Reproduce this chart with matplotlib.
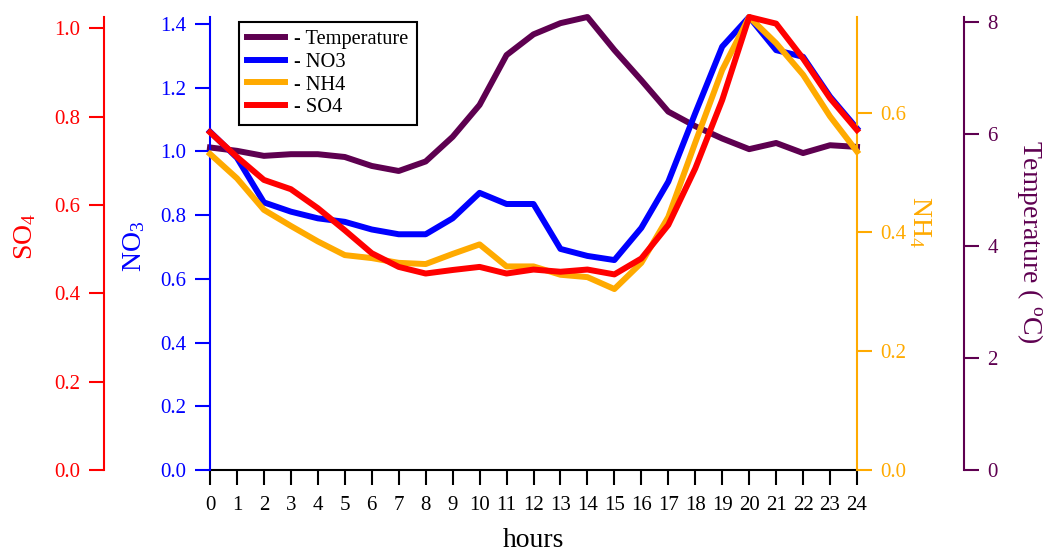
import matplotlib
matplotlib.use("Agg")
import matplotlib.pyplot as plt

plt.rcParams['font.family'] = ['Liberation Serif', 'DejaVu Serif']
plt.rcParams['mathtext.fontset'] = 'custom'
plt.rcParams['mathtext.rm'] = 'Liberation Serif'
plt.rcParams['mathtext.it'] = 'Liberation Serif:italic'
plt.rcParams['mathtext.bf'] = 'Liberation Serif:bold'

# ---- data ----
hours = list(range(25))
hour_labels = [str(h) for h in hours]
temperature = [5.76, 5.70, 5.61, 5.64, 5.64, 5.59, 5.43, 5.34, 5.51, 5.95, 6.52, 7.41, 7.78,
               7.98, 8.09, 7.50, 6.96, 6.40, 6.14, 5.92, 5.73, 5.84, 5.66, 5.80, 5.77]
no3 = [1.062, 0.98, 0.840, 0.811, 0.790, 0.779, 0.755, 0.740, 0.740, 0.790, 0.870, 0.835, 0.835,
       0.694, 0.672, 0.659, 0.760, 0.905, 1.12, 1.329, 1.422, 1.318, 1.297, 1.172, 1.072]
nh4 = [0.531, 0.49, 0.437, 0.410, 0.384, 0.361, 0.356, 0.348, 0.346, 0.363, 0.379, 0.342, 0.342,
       0.328, 0.324, 0.304, 0.348, 0.425, 0.55, 0.672, 0.761, 0.717, 0.664, 0.594, 0.535]
so4 = [0.765, 0.709, 0.657, 0.636, 0.593, 0.543, 0.491, 0.460, 0.445, 0.453, 0.460, 0.445, 0.454,
       0.449, 0.454, 0.443, 0.479, 0.555, 0.683, 0.838, 1.026, 1.011, 0.932, 0.842, 0.770]
so4_ticks = [0.0, 0.2, 0.4, 0.6, 0.8, 1.0]
no3_ticks = [0.0, 0.2, 0.4, 0.6, 0.8, 1.0, 1.2, 1.4]
nh4_ticks = [0.0, 0.2, 0.4, 0.6]
temp_ticks = [0, 2, 4, 6, 8]

C_T = '#5E0050'
C_N = '#0000FF'
C_A = '#FFAA00'
C_S = '#FF0000'
LW = 4.3
TICKFS = 15
LABFS = 20
SPW = 1.5
TL = 10.8

fig = plt.figure(figsize=(10.46, 5.51), dpi=100)
W, H = 1046, 551
ax = fig.add_axes([210 / W, 1 - 470 / H, 647 / W, 453 / H])
axN = ax.twinx()
axA = ax.twinx()
axS = ax.twinx()

lT, = ax.plot(hours, temperature, color=C_T, lw=LW, clip_on=False, label='- Temperature')
lN, = axN.plot(hours, no3, color=C_N, lw=LW, clip_on=False, label='- NO3')
lA, = axA.plot(hours, nh4, color=C_A, lw=LW, clip_on=False, label='- NH4')
lS, = axS.plot(hours, so4, color=C_S, lw=LW, clip_on=False, label='- SO4')

ax.set_xlim(0, 24)
ax.set_xticks(hours)
ax.set_xticklabels(hour_labels)
ax.set_ylim(0, max(temperature))
axN.set_ylim(0, max(no3))
axA.set_ylim(0, max(nh4))
axS.set_ylim(0, max(so4))

for a in (ax, axN, axA, axS):
    for s in a.spines.values():
        s.set_visible(False)

# x axis
ax.spines['bottom'].set_visible(True)
ax.spines['bottom'].set_linewidth(SPW)
ax.spines['bottom'].set_color('black')
ax.tick_params(axis='x', direction='out', length=TL, width=SPW, labelsize=TICKFS, pad=8,
               colors='black')
ax.set_xlabel('hours', fontsize=LABFS)
ax.xaxis.set_label_coords(0.5, -0.127)


def setup_y(a, side, offset_px, color, ticks, fmt, label, rot, lx, ly):
    sp = a.spines[side]
    sp.set_visible(True)
    sp.set_color(color)
    sp.set_linewidth(SPW)
    sp.set_position(('outward', offset_px * 0.72))
    if side == 'left':
        a.yaxis.tick_left()
    else:
        a.yaxis.tick_right()
    a.yaxis.set_label_position(side)
    a.set_yticks(ticks)
    a.set_yticklabels([fmt.format(t) for t in ticks])
    a.tick_params(axis='y', direction='out', length=TL, width=SPW, labelsize=TICKFS,
                  pad=6, colors=color)
    a.set_ylabel(label, fontsize=LABFS, color=color, rotation=rot)
    a.yaxis.label.set_verticalalignment('center')
    a.yaxis.label.set_horizontalalignment('center')
    a.yaxis.set_label_coords(lx, ly)


setup_y(axS, 'left', 106, C_S, so4_ticks, '{:.1f}', 'SO$_4$', 90, -0.285, 0.515)
setup_y(axN, 'left', 0, C_N, no3_ticks, '{:.1f}', 'NO$_3$', 90, -0.118, 0.494)
setup_y(axA, 'right', 0, C_A, nh4_ticks, '{:.1f}', 'NH$_4$', 270, 1.097, 0.547)
setup_y(ax, 'right', 107, C_T, temp_ticks, '{:d}', 'Temperature ( $^{\\mathrm{o}}$C)', 270,
        1.268, 0.504)

leg = axS.legend(handles=[lT, lN, lA, lS], loc='upper left', bbox_to_anchor=(0.0448, 0.989),
                 bbox_transform=ax.transAxes, borderaxespad=0, fontsize=14.7,
                 frameon=True, fancybox=False, framealpha=1, edgecolor='black',
                 handlelength=1.85, handletextpad=0.45, labelspacing=0.16, borderpad=0.4)
leg.get_frame().set_linewidth(1.5)

fig.savefig('out.png', dpi=100)
